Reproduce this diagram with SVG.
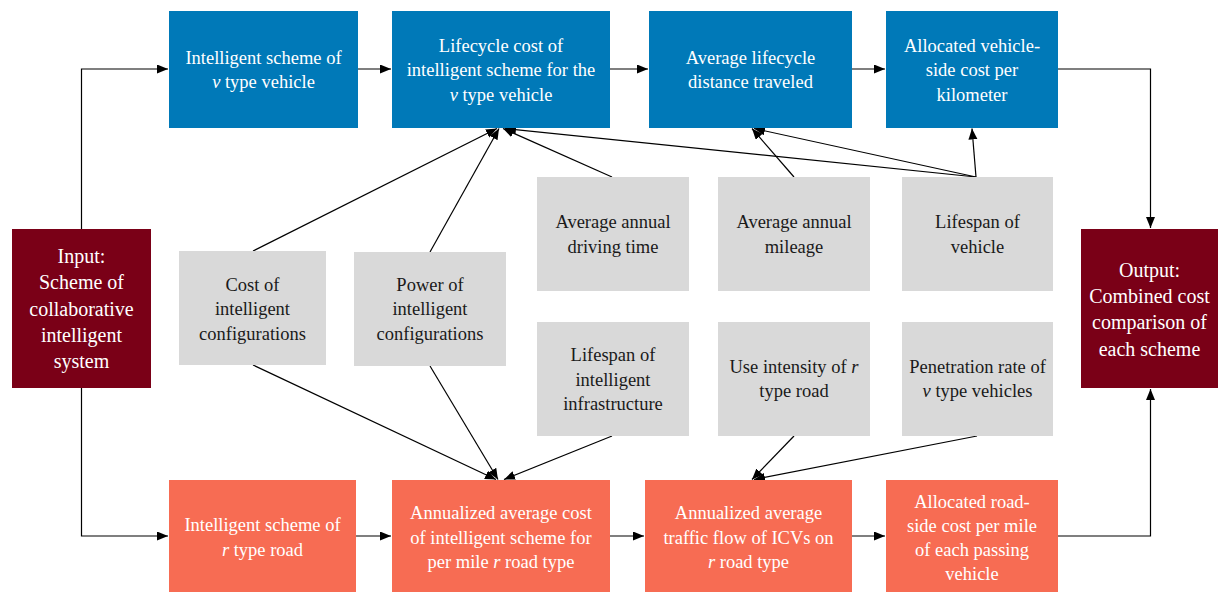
<svg xmlns="http://www.w3.org/2000/svg" width="1218" height="592" viewBox="0 0 1218 592">
  <defs>
    <marker id="arr" markerUnits="userSpaceOnUse" markerWidth="12" markerHeight="10" refX="11" refY="4.5" orient="auto">
      <path d="M0,0 L11,4.5 L0,9 z" fill="#000"/>
    </marker>
    <style>
      .blue { fill: #0079B8; }
      .orange { fill: #F76C53; }
      .dark { fill: #7A0017; }
      .gray { fill: #D9D9D9; }
      text { font-size: 18.5px; text-anchor: middle; }
      .w { fill: #FFFFFF; }
      .k { fill: #1A1A1A; }
      .big { font-size: 20px; }
      .it { font-style: italic; }
      .c line, .c polyline { stroke: #000; stroke-width: 1.2; fill: none; }
    </style>
  </defs>

  <!-- connectors -->
  <g id="connectors" class="c">
    <!-- input branches -->
    <polyline points="81.5,229 81.5,69 168,69" marker-end="url(#arr)"/>
    <polyline points="81.5,388 81.5,536 168,536" marker-end="url(#arr)"/>
    <!-- vehicle-side chain -->
    <line x1="358" y1="69" x2="391" y2="69" marker-end="url(#arr)"/>
    <line x1="610" y1="69" x2="648" y2="69" marker-end="url(#arr)"/>
    <line x1="852" y1="69" x2="885" y2="69" marker-end="url(#arr)"/>
    <polyline points="1058,69 1150.5,69 1150.5,228" marker-end="url(#arr)"/>
    <!-- road-side chain -->
    <line x1="356" y1="536" x2="391" y2="536" marker-end="url(#arr)"/>
    <line x1="610" y1="536" x2="644" y2="536" marker-end="url(#arr)"/>
    <line x1="852" y1="536" x2="885" y2="536" marker-end="url(#arr)"/>
    <polyline points="1058,536 1150.5,536 1150.5,389" marker-end="url(#arr)"/>
    <!-- parameters into lifecycle cost -->
    <line x1="253" y1="251" x2="497" y2="128.5" marker-end="url(#arr)"/>
    <line x1="430" y1="252" x2="499" y2="128.5" marker-end="url(#arr)"/>
    <line x1="612" y1="177" x2="503" y2="128.5" marker-end="url(#arr)"/>
    <line x1="976" y1="177" x2="505" y2="128.5" marker-end="url(#arr)"/>
    <!-- parameters into lifecycle distance -->
    <line x1="794" y1="177" x2="752" y2="128.5" marker-end="url(#arr)"/>
    <line x1="976" y1="177" x2="754" y2="128.5" marker-end="url(#arr)"/>
    <!-- lifespan into per-km cost -->
    <line x1="976" y1="177" x2="972" y2="128.5" marker-end="url(#arr)"/>
    <!-- parameters into annualized road cost -->
    <line x1="253" y1="365" x2="496" y2="479.5" marker-end="url(#arr)"/>
    <line x1="430" y1="366" x2="498" y2="479.5" marker-end="url(#arr)"/>
    <line x1="612" y1="436" x2="504" y2="479.5" marker-end="url(#arr)"/>
    <!-- parameters into traffic flow -->
    <line x1="794" y1="436" x2="752" y2="479.5" marker-end="url(#arr)"/>
    <line x1="977" y1="436" x2="754" y2="479.5" marker-end="url(#arr)"/>
  </g>

  <g id="nodes" font-family="'Liberation Serif', 'Times New Roman', Times, 'Noto Serif', 'DejaVu Serif', FreeSerif, serif">
  <!-- input / output -->
  <g id="input">
    <rect class="dark" x="12" y="229" width="139" height="159"/>
    <text class="w big"><tspan x="81.5" y="263">Input:</tspan><tspan x="81.5" y="289">Scheme of</tspan><tspan x="81.5" y="316">collaborative</tspan><tspan x="81.5" y="342">intelligent</tspan><tspan x="81.5" y="368">system</tspan></text>
  </g>
  <g id="output">
    <rect class="dark" x="1081" y="229" width="137" height="159"/>
    <text class="w big"><tspan x="1149.5" y="277">Output:</tspan><tspan x="1149.5" y="303">Combined cost</tspan><tspan x="1149.5" y="329">comparison of</tspan><tspan x="1149.5" y="356">each scheme</tspan></text>
  </g>

  <!-- vehicle-side row -->
  <g id="v-scheme">
    <rect class="blue" x="169" y="11" width="189" height="117"/>
    <text class="w"><tspan x="263.5" y="64">Intelligent scheme of</tspan><tspan x="263.5" y="88"><tspan class="it">v</tspan> type vehicle</tspan></text>
  </g>
  <g id="v-lifecycle-cost">
    <rect class="blue" x="392" y="11" width="218" height="117"/>
    <text class="w"><tspan x="501" y="52">Lifecycle cost of</tspan><tspan x="501" y="76">intelligent scheme for the</tspan><tspan x="501" y="101"><tspan class="it">v</tspan> type vehicle</tspan></text>
  </g>
  <g id="v-distance">
    <rect class="blue" x="649" y="11" width="203" height="117"/>
    <text class="w"><tspan x="750.5" y="64">Average lifecycle</tspan><tspan x="750.5" y="88">distance traveled</tspan></text>
  </g>
  <g id="v-cost-per-km">
    <rect class="blue" x="886" y="11" width="172" height="117"/>
    <text class="w"><tspan x="972" y="52">Allocated vehicle-</tspan><tspan x="972" y="76">side cost per</tspan><tspan x="972" y="101">kilometer</tspan></text>
  </g>

  <!-- parameter boxes -->
  <g id="p-cost">
    <rect class="gray" x="179" y="251" width="147" height="114"/>
    <text class="k"><tspan x="252.5" y="291">Cost of</tspan><tspan x="252.5" y="315">intelligent</tspan><tspan x="252.5" y="340">configurations</tspan></text>
  </g>
  <g id="p-power">
    <rect class="gray" x="354" y="252" width="152" height="114"/>
    <text class="k"><tspan x="430" y="291">Power of</tspan><tspan x="430" y="315">intelligent</tspan><tspan x="430" y="340">configurations</tspan></text>
  </g>
  <g id="p-driving-time">
    <rect class="gray" x="537" y="177" width="152" height="114"/>
    <text class="k"><tspan x="613" y="228">Average annual</tspan><tspan x="613" y="253">driving time</tspan></text>
  </g>
  <g id="p-mileage">
    <rect class="gray" x="718" y="177" width="152" height="114"/>
    <text class="k"><tspan x="794" y="228">Average annual</tspan><tspan x="794" y="253">mileage</tspan></text>
  </g>
  <g id="p-vehicle-life">
    <rect class="gray" x="902" y="177" width="151" height="114"/>
    <text class="k"><tspan x="977.5" y="228">Lifespan of</tspan><tspan x="977.5" y="253">vehicle</tspan></text>
  </g>
  <g id="p-infra-life">
    <rect class="gray" x="537" y="322" width="152" height="114"/>
    <text class="k"><tspan x="613" y="361">Lifespan of</tspan><tspan x="613" y="386">intelligent</tspan><tspan x="613" y="410">infrastructure</tspan></text>
  </g>
  <g id="p-use-intensity">
    <rect class="gray" x="718" y="322" width="152" height="114"/>
    <text class="k"><tspan x="794" y="373">Use intensity of <tspan class="it">r</tspan></tspan><tspan x="794" y="397">type road</tspan></text>
  </g>
  <g id="p-penetration">
    <rect class="gray" x="902" y="322" width="151" height="114"/>
    <text class="k"><tspan x="977.5" y="373">Penetration rate of</tspan><tspan x="977.5" y="397"><tspan class="it">v</tspan> type vehicles</tspan></text>
  </g>

  <!-- road-side row -->
  <g id="r-scheme">
    <rect class="orange" x="169" y="480" width="187" height="112"/>
    <text class="w"><tspan x="262.5" y="531">Intelligent scheme of</tspan><tspan x="262.5" y="556"><tspan class="it">r</tspan> type road</tspan></text>
  </g>
  <g id="r-annual-cost">
    <rect class="orange" x="392" y="480" width="218" height="112"/>
    <text class="w"><tspan x="501" y="519">Annualized average cost</tspan><tspan x="501" y="544">of intelligent scheme for</tspan><tspan x="501" y="568">per mile <tspan class="it">r</tspan> road type</tspan></text>
  </g>
  <g id="r-traffic">
    <rect class="orange" x="645" y="480" width="207" height="112"/>
    <text class="w"><tspan x="748.5" y="519">Annualized average</tspan><tspan x="748.5" y="544">traffic flow of ICVs on</tspan><tspan x="748.5" y="568"><tspan class="it">r</tspan> road type</tspan></text>
  </g>
  <g id="r-cost-per-mile">
    <rect class="orange" x="886" y="480" width="172" height="112"/>
    <text class="w"><tspan x="972" y="508">Allocated road-</tspan><tspan x="972" y="532">side cost per mile</tspan><tspan x="972" y="556">of each passing</tspan><tspan x="972" y="580">vehicle</tspan></text>
  </g>
  </g>
</svg>
